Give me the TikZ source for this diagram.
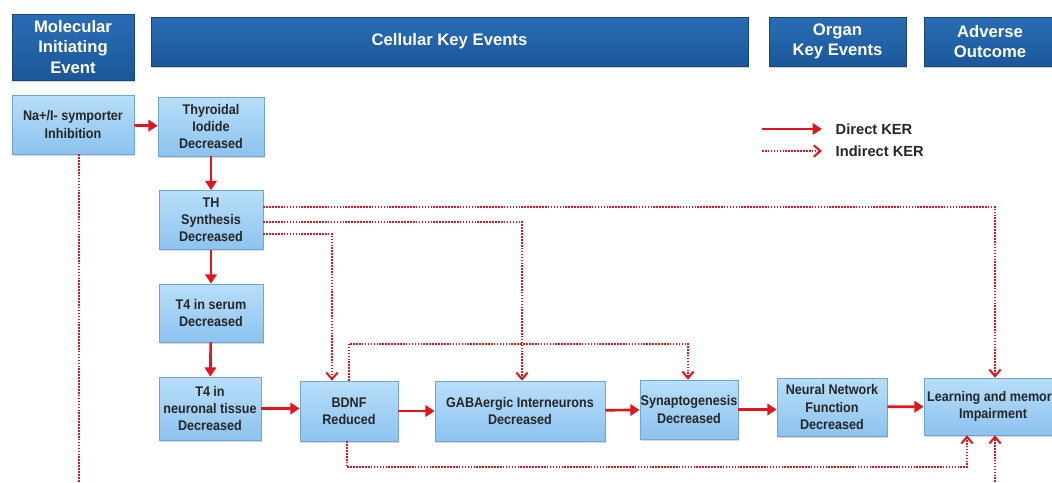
\documentclass[tikz,border=0pt]{standalone}
\usepackage{fontspec}
\setmainfont{Liberation Sans}
\newfontfamily\nfont{Liberation Sans}[FakeStretch=0.9]
\usetikzlibrary{arrows.meta,shadows,calc}
\definecolor{hdr}{HTML}{1B5799}
\definecolor{hdrtop}{HTML}{2A6DB5}
\definecolor{boxtop}{HTML}{B8DEFA}
\definecolor{boxbot}{HTML}{8CC3EE}
\definecolor{boxline}{HTML}{6FA6D4}
\definecolor{ker}{HTML}{E3141B}
\tikzset{
  header/.style={draw=hdr!80!black, line width=0.4pt, top color=hdrtop, bottom color=hdr,
    text=white, font=\bfseries\fontsize{12.5}{15.5}\selectfont, align=center, inner sep=0pt,
    drop shadow={shadow xshift=0.8pt, shadow yshift=-1.2pt, opacity=0.35}},
  kebox/.style={draw=boxline, line width=0.5pt, top color=boxtop, bottom color=boxbot,
    text=black!85, font=\nfont\bfseries\fontsize{10.5}{12.8}\selectfont, align=center, inner sep=0pt,
    drop shadow={shadow xshift=0.8pt, shadow yshift=-1.2pt, opacity=0.3}},
  direct/.style={draw=ker, line width=2pt, -{Triangle[length=7pt,width=8.5pt]}},
  indirect/.style={draw=ker, line width=1.6pt, dash pattern=on 1.2pt off 1pt,
    -{Straight Barb[length=5pt,width=8.5pt,line width=1.5pt]}},
  indnohead/.style={draw=ker, line width=1.6pt, dash pattern=on 1.2pt off 1pt},
  legtext/.style={anchor=west, font=\bfseries\fontsize{11}{13}\selectfont, text=black!85}
}
\begin{document}
\begin{tikzpicture}[x=0.75pt,y=-0.75pt]
\useasboundingbox (0,0) rectangle (1052,482);
\clip (0,0) rectangle (1052,482);
\fill[white] (0,0) rectangle (1052,482);
% headers
\node[header, minimum width=122*0.75pt, minimum height=66*0.75pt] (mie) at (73,47) {Molecular\\Initiating\\Event};
\node[header, minimum width=597*0.75pt, minimum height=49*0.75pt] (cke) at (449.5,41.5) {Cellular Key Events};
\node[header, minimum width=137*0.75pt, minimum height=49*0.75pt] (oke) at (837.5,41.5) {Organ\\Key Events};
\node[header, minimum width=132*0.75pt, minimum height=49*0.75pt] (ao) at (990,41.5) {Adverse\\Outcome};
% key event boxes
\node[kebox, minimum width=122*0.75pt, minimum height=59*0.75pt] (nis) at (73,124.5) {Na+/I- symporter\\Inhibition};
\node[kebox, minimum width=106*0.75pt, minimum height=59*0.75pt] (tid) at (211,126.5) {Thyroidal\\Iodide\\Decreased};
\node[kebox, minimum width=104*0.75pt, minimum height=59*0.75pt] (ths) at (211,220) {TH\\Synthesis\\Decreased};
\node[kebox, minimum width=104*0.75pt, minimum height=58*0.75pt] (t4s) at (211,313) {T4 in serum\\Decreased};
\node[kebox, minimum width=102*0.75pt, minimum height=63*0.75pt] (t4n) at (210,408.5) {T4 in\\neuronal tissue\\Decreased};
\node[kebox, minimum width=98*0.75pt, minimum height=60*0.75pt] (bdnf) at (349,411) {BDNF\\Reduced};
\node[kebox, minimum width=170*0.75pt, minimum height=60*0.75pt] (gaba) at (520,411) {GABAergic Interneurons\\Decreased};
\node[kebox, minimum width=98*0.75pt, minimum height=59*0.75pt] (syn) at (689,409.5) {Synaptogenesis\\Decreased};
\node[kebox, minimum width=110*0.75pt, minimum height=58*0.75pt] (nnf) at (832,407) {Neural Network\\Function\\Decreased};
\node[kebox, minimum width=138*0.75pt, minimum height=57*0.75pt] (lm) at (993,406.5) {Learning and memory\\Impairment};
% direct KERs
\draw[direct] (nis) -- (tid);
\draw[direct] (tid) -- (ths);
\draw[direct] (ths) -- (t4s);
\draw[direct] (t4s) -- (t4n);
\draw[direct] (t4n.east) -- (t4n.east -| bdnf.west);
\draw[direct] (bdnf) -- (gaba);
\draw[direct] (gaba) -- (syn);
\draw[direct] (syn.east) -- (syn.east -| nnf.west);
\draw[direct] (nnf) -- (lm);
% indirect KERs
\coordinate (nisend) at (79,482);
\draw[indnohead] (nis.south -| nisend) -- (nisend);
\draw[indirect] ($(ths.east)+(0,-13)$) -| ($(lm.north)+(2,0)$);
\draw[indirect] ($(ths.east)+(0,2)$) -| ($(gaba.north)+(2,0)$);
\draw[indirect] ($(ths.east)+(0,14)$) -| ($(bdnf.north)+(-17,0)$);
\draw[indirect] (bdnf.north) -- ++(0,-37) -| ($(syn.north)+(-1,0)$);
\draw[indirect] ($(bdnf.south)+(-2,0)$) -- ++(0,26) -| ($(lm.south)+(-26,0)$);
\coordinate (lmin) at (995,482);
\draw[indirect] (lmin) -- (lmin |- lm.south);
% legend
\coordinate (l1a) at (762,129);
\coordinate (l1b) at (822,129);
\coordinate (l2a) at (762,151);
\coordinate (l2b) at (822,151);
\draw[direct] (l1a) -- (l1b);
\draw[indirect] (l2a) -- (l2b);
\node[legtext] (lt1) at (831,129) {Direct KER};
\node[legtext] (lt2) at (831,151) {Indirect KER};
\end{tikzpicture}
\end{document}
